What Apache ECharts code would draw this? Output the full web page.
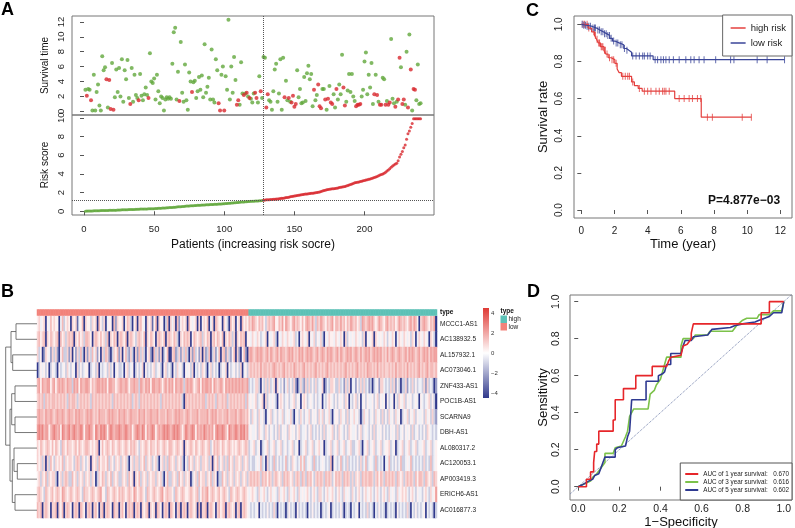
<!DOCTYPE html>
<html><head><meta charset="utf-8">
<script src="https://cdn.jsdelivr.net/npm/echarts@6/dist/echarts.min.js"></script>
<style>html,body{margin:0;padding:0;background:#fff}#c{width:795px;height:528px}</style>
</head><body><div id="c"></div>
<script>
// ================= Panel A data =================
const riskScore = [
0.01,0.02,0.03,0.03,0.04,0.04,0.05,0.05,0.05,0.06,
0.06,0.07,0.07,0.08,0.08,0.09,0.09,0.10,0.10,0.11,
0.11,0.12,0.12,0.13,0.14,0.14,0.15,0.15,0.16,0.17,
0.17,0.18,0.18,0.19,0.20,0.20,0.21,0.21,0.22,0.23,
0.23,0.24,0.24,0.25,0.25,0.26,0.26,0.27,0.27,0.28,
0.29,0.30,0.31,0.32,0.33,0.34,0.35,0.36,0.37,0.38,
0.39,0.40,0.41,0.43,0.44,0.45,0.47,0.48,0.49,0.51,
0.52,0.53,0.55,0.56,0.57,0.58,0.59,0.60,0.61,0.62,
0.63,0.64,0.65,0.66,0.67,0.68,0.69,0.70,0.71,0.72,
0.72,0.73,0.74,0.75,0.76,0.77,0.78,0.79,0.80,0.81,
0.82,0.83,0.85,0.86,0.88,0.89,0.91,0.92,0.94,0.95,
0.96,0.98,0.99,1.00,1.01,1.02,1.04,1.05,1.06,1.07,
1.08,1.09,1.10,1.11,1.12,1.13,1.14,1.18,1.20,1.22,
1.23,1.24,1.25,1.27,1.28,1.29,1.31,1.32,1.34,1.36,
1.38,1.40,1.43,1.46,1.48,1.51,1.54,1.57,1.60,1.63,
1.66,1.69,1.71,1.73,1.76,1.79,1.81,1.84,1.86,1.88,
1.90,1.92,1.94,1.96,1.98,2.00,2.03,2.07,2.12,2.17,
2.22,2.26,2.30,2.33,2.36,2.38,2.40,2.42,2.44,2.47,
2.50,2.53,2.56,2.59,2.62,2.66,2.70,2.75,2.80,2.86,
2.92,2.98,3.04,3.08,3.11,3.14,3.18,3.22,3.26,3.30,
3.34,3.38,3.42,3.46,3.50,3.55,3.60,3.66,3.72,3.80,
3.88,3.94,4.00,4.08,4.18,4.30,4.42,4.55,4.70,4.85,
4.95,5.05,5.15,5.40,5.80,6.10,6.40,6.80,7.10,7.70,
8.30,8.60,9.00,9.40,9.90,9.90,9.90,9.90,9.90,9.90];
const survivalTime = [
2.9,2.1,3.0,2.9,1.5,0.1,4.9,0.1,2.6,3.6,
0.8,0.1,7.4,5.5,5.9,4.3,0.5,4.2,0.3,6.5,
0.2,1.9,5.6,2.6,5.8,2.0,7.0,1.3,5.5,4.3,
6.9,1.8,1.0,5.8,1.3,4.9,2.2,1.8,1.5,5.0,
2.1,1.5,2.3,3.2,2.2,1.8,7.8,4.0,3.8,4.4,
1.6,4.9,2.7,1.1,2.0,1.8,0.1,1.6,1.9,1.7,
1.9,1.7,6.4,10.6,11.2,1.6,5.3,1.4,9.3,2.5,
1.3,6.3,1.5,0.2,5.2,4.0,2.6,3.9,4.1,1.8,
2.7,4.6,2.9,4.8,1.9,9.0,2.5,3.3,4.5,1.6,
8.3,1.6,1.2,7.0,5.5,1.1,0.1,4.9,6.0,0.1,
4.7,2.9,12.3,1.6,6.0,2.5,7.3,4.2,0.9,1.5,
0.9,6.6,2.4,2.2,2.4,2.5,2.0,1.8,1.7,1.2,
2.4,2.5,1.8,1.2,4.7,2.7,1.8,7.3,7.2,0.5,
2.3,1.5,1.3,0.2,2.7,5.6,6.4,1.3,2.4,7.0,
0.2,7.2,1.9,4.1,1.5,1.8,1.3,1.2,2.1,0.6,
1.0,5.5,1.9,3.0,1.1,1.2,4.6,1.4,5.1,6.1,
4.3,5.0,0.7,2.9,1.5,2.2,3.6,0.7,0.4,3.0,
3.0,1.6,0.2,1.7,3.4,1.2,1.0,2.3,0.5,3.0,
1.6,3.6,2.3,7.6,3.2,0.8,1.3,2.8,5.0,2.6,
5.0,2.0,1.4,0.7,0.9,0.9,1.0,2.0,2.9,6.7,
7.9,2.3,4.9,3.2,6.5,1.0,2.3,4.9,2.2,1.3,
0.9,0.9,4.5,4.3,0.9,1.4,0.9,1.2,9.7,1.7,
1.1,0.6,1.3,1.6,7.2,5.9,1.0,1.6,0.9,8.0,
0.5,10.3,5.6,0.1,3.0,2.9,1.5,6.3,1.0,1.1];
const survivalStatus = [ // 1 = dead, 0 = alive
0,1,0,0,1,0,0,0,0,0, 0,0,0,0,0,1,0,1,1,0, 1,0,0,0,0,0,0,0,0,0, 0,0,1,0,0,0,0,0,1,0,
0,0,0,0,0,1,0,0,0,0, 0,0,0,0,0,0,0,0,0,0, 0,0,0,0,0,0,0,1,0,0, 0,0,0,0,0,0,1,0,0,0,
0,0,0,0,0,0,0,0,0,0, 0,0,0,0,0,1,1,0,0,1, 0,0,0,0,0,0,0,0,1,1, 0,0,0,1,0,1,0,1,0,0,
0,1,1,0,0,1,0,0,0,1, 1,0,0,0,0,0,0,0,0,0, 0,0,1,0,0,1,0,1,1,1, 1,0,0,0,0,0,0,0,0,0,
0,0,0,1,0,0,1,1,1,0, 0,1,0,1,0,1,1,0,0,1, 0,0,0,0,1,1,0,0,0,0, 0,0,0,1,1,1,1,0,0,0,
0,0,0,0,0,0,1,0,1,0, 1,1,0,0,1,0,1,1,0,0, 0,1,0,1,1,0,1,1,0,0, 1,0,1,0,1,1,0,0,0,0];
const lowRiskCount = 127;
const riskCutoff = 1.15;
const patientTicks = [0, 50, 100, 150, 200];
const survivalTicks = [0, 2, 4, 6, 8, 10, 12];
const riskTicks = [0, 2, 4, 6, 8, 10];

// ================= Panel B data =================
const genes = ['MCCC1-AS1','AC138932.5','AL157932.1','AC073046.1','ZNF433-AS1','POC1B-AS1','SCARNA9','DBH-AS1','AL080317.2','AC120053.1','AP003419.3','ERICH6-AS1','AC016877.3'];
const exprLevels = [-4, -3, -2, -1, -0.3, 0.3, 0.9, 1.4, 1.9, 2.5]; // code digit -> value
const exprRows = [
'5645605475 6550473565 0656145706 5536560753 6045507265 5605763056 0675406561 5706550370 6460725656 0754560605 6570460765 5065307560 5607565768 7657675367 6785576858 7657867657 5787686376 8765767857 7686757687 6756387678 7865687657 8676756876 7657868750 6787657680',
'6756706576 5670756367 6706575637 7650676575 6370657606 7657067653 6765706576 5067657067 6576306576 7605765673 6576067576 5706576360 6576705546 5465345605 4563054654 6545634056 5460546354 6305465546 5465063545 4654536054 5606545465 3546504654 6545365046 5465406530',
'6350265426 3620573362 6052637306 2637462506 3762036572 6057326306 2736305620 7362603570 0672362637 3062735260 6237036247 0672632570 6205720787 6787876786 8767868776 7878676878 6787876786 7876878767 8687678786 7876867878 6787878676 8678767876 7868787678 6787868788',
'0354535035 4305345364 3540635345 5034536043 4536350453 3405634503 5346053435 6345305634 3053645305 4536043536 5304635340 3546053453 5360453676 7676867767 6787676786 7676876767 8676767867 6767867676 7676786767 6786767687 7676867676 6767686776 7686767678 6767867767',
'7858778857 8578787687 7387858778 8757678878 7858877567 8778757787 7387687858 8778757868 7858778737 8787567858 7887858767 8758787878 7878778343 4663053636 3460643524 6353620363 2636353634 4602436653 3634263604 4253636342 3034526643 4363625303 3624363534 4362634302',
'6767376767 7676767637 6776367676 7637676767 6767637676 7676767367 6376767676 7676376767 6767676307 6767676767 7367676376 6767367676 7676737454 5634560635 4543056534 5345635405 6534543534 5043565435 3545365043 5635045354 4535635450 5345053654 6354534540 5434563530',
'7877687787 6787787678 7768787767 8787676877 7678787768 7787678777 6877867787 7786777687 7678787767 8767778677 7786787867 7677867778 6787767536 4536453045 6345354634 5463045364 3546354536 4635463045 5364536354 6453036453 4536453635 3645364503 5463546354 4536453632',
'8989788578 9878598789 7898789858 8987598798 9858987889 8789878578 9879858789 8578789898 7898987579 8789858787 9878785898 8987598789 8798978454 4536543653 5435363545 3654535634 4535634353 5363545635 3654353654 4535634543 5363545353 4354536345 3545363453 4353654343',
'6576567657 5765376576 6567576567 7656567057 5676576567 6567657676 5365676576 6576567657 7656765606 5676576567 6567357676 5765676565 6765676345 6345034563 4563456345 3456345034 5634563456 4503456345 6345634563 3456304563 4563456345 5634503456 3456345634 4563456345',
'6563606375 3656573656 6536763653 5606563756 6573653656 3656305636 6365736563 5630563637 6563656305 3756365636 6563606573 5636375636 6563656343 3454734063 4373534347 3436543474 7345437343 4543437054 3473436343 4353634734 5437343404 4734353473 3454734343 4363437345',
'5636573656 6305636763 3756365636 5636503657 6365736563 3656375606 5736563656 6365630573 3656375636 5603563756 6365736503 3756365636 5636563676 7676376757 6367656376 7656367637 6376753676 7637676357 6763767636 3656376767 7636757637 6767637656 3676763757 7637656376',
'6765376567 5676587656 7656765376 6567656785 5376567657 6765676587 5676537656 7656785676 6537656765 5676567357 6785676567 5676537656 7656765456 5436456435 6454364564 3645643645 4564356436 6435645643 5643645436 4356435645 6435643564 3645436456 5643564354 4356436458',
'7670676506 6706570676 5067607650 6760675067 0676507660 6750676706 7606567065 6076506760 7650670676 0676560706 6706765067 5670676560 6706765434 3450434353 4363043430 3534305343 4304353434 0343450343 4353034304 3450434363 4304353430 3434305343 4363043534 3450434303'
];
// hclust merges: negative = leaf (row), positive = earlier merge; third = height
const dendroMerges = [[-1,-2,21],[-3,-4,24.3],[1,2,26],[-5,-6,22],[-7,-8,22],[4,5,25.3],[-10,-11,19.7],[-9,7,23],[-12,-13,22],[8,9,24.7],[6,10,27],[3,11,31.3]];
const colorbarTicks = [4, 2, 0, -2, -4];
const typeNames = ['low', 'high'];

// ================= Panel C data =================
const kmHighTime = [0,0.42,0.62,0.8,0.92,1.02,1.15,1.36,1.48,1.62,1.8,2.02,2.16,2.28,2.42,3.03,3.2,3.43,3.67,5.63,7.23,10.25];
const kmHighSurv = [1,0.98,0.96,0.94,0.92,0.90,0.88,0.86,0.84,0.82,0.81,0.79,0.76,0.74,0.72,0.69,0.67,0.655,0.64,0.60,0.50,0.50];
const kmHighCensor = [0.1,0.2,0.35,0.45,0.75,0.85,0.95,1.05,1.1,1.2,1.25,1.3,1.4,1.45,1.55,1.7,1.85,1.95,2.1,2.5,2.65,2.8,2.9,3.1,3.5,3.8,4.0,4.2,4.5,4.7,4.9,5.0,5.1,5.3,5.9,6.2,6.5,6.7,7.0,7.2,7.6,7.9,9.7,10.25];
const kmLowTime = [0,0.1,0.3,0.62,0.92,1.12,1.32,1.52,1.72,1.88,2.02,2.28,2.56,2.72,2.87,3.03,4.33,12.25];
const kmLowSurv = [1,0.995,0.99,0.98,0.97,0.96,0.95,0.94,0.925,0.91,0.90,0.89,0.87,0.86,0.85,0.83,0.81,0.81];
const kmLowCensor = [0.05,0.15,0.25,0.35,0.45,0.55,0.7,0.8,0.85,1.0,1.1,1.2,1.3,1.4,1.5,1.6,1.7,1.8,1.95,2.1,2.2,2.35,2.45,2.6,2.75,3.1,3.3,3.5,3.7,3.8,4.0,4.15,4.45,4.6,4.8,4.95,5.1,5.3,5.55,5.9,6.3,6.6,6.8,7.1,7.4,8.1,9.0,9.2,10.6,11.2,12.25];
const kmGroups = ['high risk', 'low risk'];
const timeTicks = [0, 2, 4, 6, 8, 10, 12];
const rateTicks = [0, 0.2, 0.4, 0.6, 0.8, 1.0];
const pValueText = 'P=4.877e\u221203';

// ================= Panel D data =================
const rocNames = ['AUC of 1 year survival:', 'AUC of 3 year survival:', 'AUC of 5 year survival:'];
const rocAuc = ['0.670', '0.616', '0.602'];
const roc1 = [[0,0],[0.04,0],[0.04,0.04],[0.06,0.04],[0.06,0.08],[0.075,0.08],[0.075,0.13],[0.08,0.13],[0.08,0.19],[0.09,0.19],[0.09,0.23],[0.1,0.23],[0.1,0.3],[0.17,0.3],[0.17,0.36],[0.18,0.36],[0.18,0.47],[0.22,0.47],[0.22,0.53],[0.28,0.53],[0.28,0.6],[0.36,0.6],[0.36,0.65],[0.43,0.65],[0.44,0.68],[0.45,0.7],[0.5,0.71],[0.51,0.76],[0.53,0.77],[0.55,0.8],[0.55,0.83],[0.56,0.88],[0.89,0.88],[0.89,0.94],[0.93,0.94],[0.93,1],[1,1]];
const roc3 = [[0,0],[0.02,0.01],[0.04,0.02],[0.06,0.03],[0.07,0.05],[0.09,0.07],[0.11,0.1],[0.13,0.13],[0.13,0.18],[0.17,0.18],[0.18,0.21],[0.21,0.22],[0.23,0.27],[0.24,0.3],[0.25,0.38],[0.27,0.42],[0.34,0.42],[0.35,0.5],[0.37,0.52],[0.38,0.55],[0.4,0.58],[0.41,0.62],[0.42,0.66],[0.43,0.7],[0.5,0.7],[0.5,0.76],[0.51,0.8],[0.56,0.8],[0.57,0.82],[0.63,0.82],[0.64,0.84],[0.75,0.84],[0.77,0.87],[0.8,0.9],[0.82,0.91],[0.87,0.91],[0.88,0.93],[0.93,0.93],[0.95,0.95],[0.99,0.95],[1,1]];
const roc5 = [[0,0],[0.02,0.01],[0.05,0.03],[0.07,0.04],[0.08,0.06],[0.1,0.07],[0.11,0.1],[0.13,0.16],[0.18,0.16],[0.18,0.2],[0.19,0.21],[0.23,0.22],[0.24,0.27],[0.25,0.3],[0.26,0.47],[0.33,0.47],[0.33,0.57],[0.39,0.57],[0.39,0.6],[0.41,0.61],[0.42,0.62],[0.43,0.66],[0.45,0.66],[0.45,0.72],[0.5,0.72],[0.51,0.76],[0.52,0.79],[0.55,0.79],[0.56,0.81],[0.63,0.82],[0.65,0.85],[0.74,0.86],[0.76,0.87],[0.8,0.88],[0.86,0.89],[0.88,0.9],[0.93,0.92],[0.95,0.94],[0.99,0.94],[1,1]];
const rocDiagonal = [[-0.04,-0.04],[1.04,1.04]];
const unitTicks = [0, 0.2, 0.4, 0.6, 0.8, 1.0];

// ================= styles =================
const FONT = 'Liberation Sans, Arial, Helvetica, sans-serif';
const C_GREEN = '#62a83c', C_RED = '#d8282e';
const KM_RED = '#e4403e', KM_BLUE = '#3a4598';
const ROC_COLORS = ['#e6262a', '#7cc24a', '#2f3a91'];
const ANNO = { low: '#f2827a', high: '#5cc1b6' };
const HEAT = ['#30398c', '#ffffff', '#df3a35'];

function valAxis(o) {
  return {
    type: 'value', gridIndex: o.grid, min: o.min, max: o.max, inverse: !!o.inverse, show: o.show !== false,
    splitLine: { show: false }, axisLine: { show: false },
    axisTick: { show: !!o.ticks, inside: false, length: 4, customValues: o.ticks, lineStyle: { color: '#555' } },
    axisLabel: { show: !!o.ticks, customValues: o.ticks, formatter: o.fmt || (v => String(v)), margin: o.margin || 6,
      rotate: o.rotate || 0, fontSize: o.fs || 10, color: '#222', fontFamily: FONT },
    name: o.name || '', nameLocation: 'middle', nameGap: o.nameGap || 20, nameRotate: o.nameRotate || 0,
    nameTextStyle: { fontSize: o.nfs || 12, color: '#111', fontFamily: FONT }
  };
}
const fmt1 = v => v.toFixed(1);

// ---- derived series data ----
const riskLow = [], riskHigh = [], survAlive = [], survDead = [];
riskScore.forEach((v, i) => (i < lowRiskCount ? riskLow : riskHigh).push([i + 1, v]));
survivalTime.forEach((t, i) => (survivalStatus[i] ? survDead : survAlive).push([i + 1, t]));

const nPat = riskScore.length;
const heatData = [], annoData = [];
exprRows.forEach((row, r) => {
  const codes = row.replace(/ /g, '');
  for (let c = 0; c < codes.length; c++) heatData.push([c, r, exprLevels[+codes[c]]]);
});
for (let c = 0; c < nPat; c++) annoData.push([c, 0, c < lowRiskCount ? 0 : 1]);
const patCats = riskScore.map((_, i) => String(i + 1));

const nodeY = [], nodeH = [], dendroSegs = [];
function nodePos(ref) { return ref < 0 ? [-ref - 1, 0] : [nodeY[ref - 1], nodeH[ref - 1]]; }
dendroMerges.forEach(([a, b, h], k) => {
  const [ya, ha] = nodePos(a), [yb, hb] = nodePos(b);
  nodeY[k] = (ya + yb) / 2; nodeH[k] = h;
  dendroSegs.push({ coords: [[ha, ya], [h, ya], [h, yb], [hb, yb]] });
});

function kmAt(times, survs, t) { let s = survs[0]; for (let i = 0; i < times.length; i++) if (times[i] <= t) s = survs[i]; return s; }

// ---- grids ----
const grids = [
  { left: 72, top: 16, width: 362, height: 99 },    // 0 A survival
  { left: 72, top: 115, width: 362, height: 100 },  // 1 A risk
  { left: 574, top: 16, width: 218, height: 202 },  // 2 C KM
  { left: 37, top: 316, width: 400, height: 202 },  // 3 B heatmap
  { left: 37, top: 309.5, width: 400, height: 6 },  // 4 B annotation
  { left: 4, top: 316, width: 33, height: 202 },    // 5 B dendrogram
  { left: 570, top: 295, width: 222, height: 205 }  // 6 D ROC
].map((g, i) => Object.assign({ show: [0, 1, 2, 6].includes(i), borderColor: '#777', borderWidth: 1, backgroundColor: 'transparent', outerBoundsMode: 'none', containLabel: false }, g));

const xAxes = [
  valAxis({ grid: 0, min: -8.56, max: 249.56, show: false }),
  valAxis({ grid: 1, min: -8.56, max: 249.56, ticks: patientTicks, margin: 9, fs: 9.5, name: 'Patients (increasing risk socre)', nameGap: 24, nfs: 12 }),
  valAxis({ grid: 2, min: -0.44, max: 12.7, ticks: timeTicks, margin: 8, fs: 10, name: 'Time (year)', nameGap: 20, nfs: 13 }),
  { type: 'category', gridIndex: 3, data: patCats, show: false },
  { type: 'category', gridIndex: 4, data: patCats, show: false },
  { type: 'value', gridIndex: 5, min: 0, max: 33, inverse: true, show: false },
  valAxis({ grid: 6, min: -0.04, max: 1.04, ticks: unitTicks, fmt: fmt1, margin: 4, fs: 10.5, name: '1\u2212Specificity', nameGap: 12, nfs: 13 })
];
const yAxes = [
  valAxis({ grid: 0, min: -0.49, max: 12.79, ticks: survivalTicks, rotate: 90, margin: 6, fs: 9.5, name: 'Survival time', nameGap: 22, nameRotate: 90, nfs: 10 }),
  valAxis({ grid: 1, min: -0.4, max: 10.3, ticks: riskTicks, rotate: 90, margin: 6, fs: 9.5, name: 'Risk score', nameGap: 22, nameRotate: 90, nfs: 10 }),
  valAxis({ grid: 2, min: -0.043, max: 1.045, ticks: rateTicks, fmt: fmt1, rotate: 90, margin: 10, fs: 10, name: 'Survival rate', nameGap: 24, nameRotate: 90, nfs: 13 }),
  { type: 'category', gridIndex: 3, data: genes, inverse: true, position: 'right',
    axisLine: { show: false }, axisTick: { show: false }, splitLine: { show: false },
    axisLabel: { fontSize: 6.5, margin: 3, color: '#222', fontFamily: FONT } },
  { type: 'category', gridIndex: 4, data: ['type'], position: 'right',
    axisLine: { show: false }, axisTick: { show: false }, splitLine: { show: false },
    axisLabel: { fontSize: 6.5, fontWeight: 'bold', margin: 3, color: '#111', fontFamily: FONT } },
  { type: 'value', gridIndex: 5, min: -0.5, max: genes.length - 0.5, inverse: true, show: false },
  valAxis({ grid: 6, min: -0.072, max: 1.036, ticks: unitTicks, fmt: fmt1, rotate: 90, margin: 8, fs: 10.5, name: 'Sensitivity', nameGap: 20, nameRotate: 90, nfs: 13 })
];

const series = [
  // A top
  { type: 'scatter', xAxisIndex: 0, yAxisIndex: 0, data: survAlive, symbolSize: 4, itemStyle: { color: C_GREEN }, silent: true,
    markLine: { silent: true, symbol: 'none', label: { show: false }, lineStyle: { type: 'dotted', color: '#555', width: 1 }, data: [{ xAxis: lowRiskCount + 0.5 }] } },
  { type: 'scatter', xAxisIndex: 0, yAxisIndex: 0, data: survDead, symbolSize: 4, itemStyle: { color: C_RED }, silent: true },
  // A bottom
  { type: 'scatter', xAxisIndex: 1, yAxisIndex: 1, data: riskLow, symbolSize: 3, itemStyle: { color: C_GREEN }, silent: true,
    markLine: { silent: true, symbol: 'none', label: { show: false }, lineStyle: { type: 'dotted', color: '#555', width: 1 },
      data: [{ xAxis: lowRiskCount + 0.5 }, { yAxis: riskCutoff }] } },
  { type: 'scatter', xAxisIndex: 1, yAxisIndex: 1, data: riskHigh, symbolSize: 3, itemStyle: { color: C_RED }, silent: true },
  // C
  { type: 'line', name: kmGroups[0], xAxisIndex: 2, yAxisIndex: 2, step: 'end', showSymbol: false, data: kmHighTime.map((t, i) => [t, kmHighSurv[i]]),
    lineStyle: { color: KM_RED, width: 1.2 }, itemStyle: { color: KM_RED }, silent: true },
  { type: 'line', name: kmGroups[1], xAxisIndex: 2, yAxisIndex: 2, step: 'end', showSymbol: false, data: kmLowTime.map((t, i) => [t, kmLowSurv[i]]),
    lineStyle: { color: KM_BLUE, width: 1.2 }, itemStyle: { color: KM_BLUE }, silent: true },
  { type: 'scatter', name: 'high censor', xAxisIndex: 2, yAxisIndex: 2, symbol: 'rect', symbolSize: [1, 7],
    data: kmHighCensor.map(t => [t, kmAt(kmHighTime, kmHighSurv, t)]), itemStyle: { color: KM_RED }, silent: true },
  { type: 'scatter', name: 'low censor', xAxisIndex: 2, yAxisIndex: 2, symbol: 'rect', symbolSize: [1, 7],
    data: kmLowCensor.map(t => [t, kmAt(kmLowTime, kmLowSurv, t)]), itemStyle: { color: KM_BLUE }, silent: true },
  // B
  { type: 'heatmap', xAxisIndex: 3, yAxisIndex: 3, data: heatData, silent: true, itemStyle: { borderWidth: 0 }, progressive: 0 },
  { type: 'heatmap', xAxisIndex: 4, yAxisIndex: 4, data: annoData, silent: true, itemStyle: { borderWidth: 0 } },
  { type: 'lines', coordinateSystem: 'cartesian2d', xAxisIndex: 5, yAxisIndex: 5, polyline: true, data: dendroSegs,
    lineStyle: { color: '#555', width: 0.8, opacity: 1 }, silent: true },
  // D
  { type: 'line', name: 'diag', xAxisIndex: 6, yAxisIndex: 6, data: rocDiagonal, showSymbol: false, clip: true,
    lineStyle: { type: 'dotted', color: '#7684ad', width: 1 }, silent: true },
  ...[roc1, roc3, roc5].map((d, k) => ({ type: 'line', name: rocNames[k], xAxisIndex: 6, yAxisIndex: 6, data: d, showSymbol: false,
    lineStyle: { color: ROC_COLORS[k], width: 1.6 }, itemStyle: { color: ROC_COLORS[k] }, silent: true }))
];
// draw order: red ROC on top
series.push(series.splice(series.length - 3, 1)[0]);

const aucOf = {}; rocNames.forEach((n, i) => aucOf[n] = rocAuc[i]);

const legends = [
  { data: kmGroups, orient: 'vertical', right: 3, top: 15, icon: 'rect', itemWidth: 15, itemHeight: 1.5, itemGap: 5,
    padding: [8, 6, 8, 8], borderColor: '#666', borderWidth: 1, backgroundColor: '#fff',
    textStyle: { fontSize: 9.5, color: '#222', fontFamily: FONT }, selectedMode: false },
  { data: rocNames, orient: 'vertical', right: 3, bottom: 28, icon: 'rect', itemWidth: 13, itemHeight: 2, itemGap: 0,
    padding: [7, 3, 6, 5], borderColor: '#555', borderWidth: 1, backgroundColor: '#fff', selectedMode: false,
    formatter: n => '{n|' + n + '}{v|' + aucOf[n] + '}',
    textStyle: { fontSize: 6.3, color: '#222', fontFamily: FONT, lineHeight: 8,
      rich: { n: { width: 70, fontSize: 6.3, fontFamily: FONT }, v: { fontSize: 6.3, fontFamily: FONT } } } }
];

// colorbar + type legend for heatmap (legend graphics)
const cbTop = 308, cbH = 90, cbX = 483;
const cbGraphics = [
  { type: 'rect', shape: { x: cbX, y: cbTop, width: 6, height: cbH }, silent: true,
    style: { fill: new echarts.graphic.LinearGradient(0, 0, 0, 1, [{ offset: 0, color: HEAT[2] }, { offset: 0.5, color: HEAT[1] }, { offset: 1, color: HEAT[0] }]) } },
  ...colorbarTicks.map(v => ({ type: 'text', silent: true, x: cbX + 8, y: cbTop + cbH / 2 - v * (cbH - 10) / 8,
    style: { text: String(v).replace('-', '\u2212'), fontSize: 6, fill: '#333', fontFamily: FONT, verticalAlign: 'middle' } })),
  { type: 'text', silent: true, x: 500.5, y: 311, style: { text: 'type', fontSize: 6.5, fontWeight: 'bold', fill: '#111', fontFamily: FONT, verticalAlign: 'middle' } },
  { type: 'rect', silent: true, shape: { x: 500.5, y: 315.5, width: 6.5, height: 7.5 }, style: { fill: ANNO.high } },
  { type: 'rect', silent: true, shape: { x: 500.5, y: 323, width: 6.5, height: 7.5 }, style: { fill: ANNO.low } },
  { type: 'text', silent: true, x: 508.5, y: 319.3, style: { text: typeNames[1], fontSize: 6.5, fill: '#222', fontFamily: FONT, verticalAlign: 'middle' } },
  { type: 'text', silent: true, x: 508.5, y: 327, style: { text: typeNames[0], fontSize: 6.5, fill: '#222', fontFamily: FONT, verticalAlign: 'middle' } }
];
const letters = [['A', 1, 1], ['B', 1, 283], ['C', 526, 2], ['D', 527, 283]].map(([t, x, y]) => ({
  type: 'text', silent: true, x, y, style: { text: t, font: 'bold 18px ' + FONT, fill: '#000' } }));
const pText = { type: 'text', silent: true, x: 708, y: 195, style: { text: pValueText, font: 'bold 12px ' + FONT, fill: '#111' } };

const chart = echarts.init(document.getElementById('c'));
chart.setOption({
  animation: false,
  backgroundColor: '#fff',
  textStyle: { fontFamily: FONT },
  grid: grids, xAxis: xAxes, yAxis: yAxes,
  visualMap: [
    { type: 'continuous', min: -4, max: 4, seriesIndex: series.findIndex(s => s.data === heatData), show: false, inRange: { color: HEAT } },
    { type: 'piecewise', seriesIndex: series.findIndex(s => s.data === annoData), show: false,
      pieces: [{ value: 0, color: ANNO.low }, { value: 1, color: ANNO.high }] }
  ],
  legend: legends,
  series,
  graphic: [...cbGraphics, ...letters, pText]
});
</script></body></html>
